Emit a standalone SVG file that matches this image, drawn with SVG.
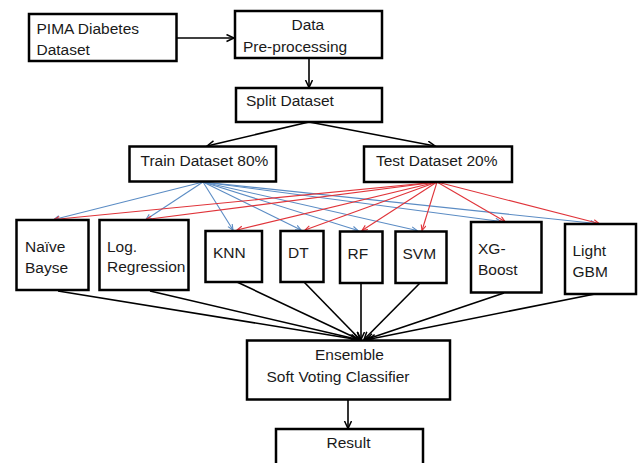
<svg xmlns="http://www.w3.org/2000/svg" width="644" height="463" viewBox="0 0 644 463">
<defs>
<style>
.box{fill:#fff;stroke:#000;stroke-width:2.5}
.t{font-family:"Liberation Sans",Arial,sans-serif;font-size:15.5px;fill:#1a1a1a}
.k{stroke:#000;stroke-width:1.6;fill:none}
.b{stroke:#5b8cc4;stroke-width:1.1;fill:none}
.r{stroke:#e0343a;stroke-width:1.1;fill:none}
</style>
<marker id="ak" markerUnits="userSpaceOnUse" markerWidth="10" markerHeight="10" refX="8" refY="4" orient="auto">
<path d="M0.5,0.5 L8,4 L0.5,7.5" fill="none" stroke="#000" stroke-width="1.5"/>
</marker>
<marker id="ab" markerUnits="userSpaceOnUse" markerWidth="8" markerHeight="8" refX="6" refY="3" orient="auto">
<path d="M0.5,0.5 L6,3 L0.5,5.5" fill="none" stroke="#5b8cc4" stroke-width="1.1"/>
</marker>
<marker id="ar" markerUnits="userSpaceOnUse" markerWidth="8" markerHeight="8" refX="6" refY="3" orient="auto">
<path d="M0.5,0.5 L6,3 L0.5,5.5" fill="none" stroke="#e0343a" stroke-width="1.1"/>
</marker>
</defs>
<rect width="644" height="463" fill="#fff"/>

<g id="connectors">
<line class="k" x1="177" y1="38" x2="234" y2="38" marker-end="url(#ak)"/>
<line class="k" x1="309" y1="58" x2="309" y2="87.5" marker-end="url(#ak)"/>
<line class="k" x1="309" y1="122" x2="207" y2="146" marker-end="url(#ak)"/>
<line class="k" x1="309" y1="122" x2="435" y2="146" marker-end="url(#ak)"/>

<g id="train-edges">
<line class="b" x1="203" y1="182" x2="54" y2="219.5" marker-end="url(#ab)"/>
<line class="b" x1="203" y1="182" x2="146" y2="219.5" marker-end="url(#ab)"/>
<line class="b" x1="203" y1="182" x2="233" y2="230" marker-end="url(#ab)"/>
<line class="b" x1="203" y1="182" x2="301" y2="230" marker-end="url(#ab)"/>
<line class="b" x1="203" y1="182" x2="358" y2="230.5" marker-end="url(#ab)"/>
<line class="b" x1="203" y1="182" x2="417" y2="230.5" marker-end="url(#ab)"/>
<line class="b" x1="203" y1="182" x2="501" y2="221.5" marker-end="url(#ab)"/>
<line class="b" x1="203" y1="182" x2="596" y2="223.5" marker-end="url(#ab)"/>
</g>
<g id="test-edges">
<line class="r" x1="437" y1="182" x2="54" y2="219.5" marker-end="url(#ar)"/>
<line class="r" x1="437" y1="182" x2="146" y2="219.5" marker-end="url(#ar)"/>
<line class="r" x1="437" y1="182" x2="237" y2="230" marker-end="url(#ar)"/>
<line class="r" x1="437" y1="182" x2="305" y2="230" marker-end="url(#ar)"/>
<line class="r" x1="437" y1="182" x2="362" y2="230.5" marker-end="url(#ar)"/>
<line class="r" x1="437" y1="182" x2="422" y2="230.5" marker-end="url(#ar)"/>
<line class="r" x1="437" y1="182" x2="505" y2="221.5" marker-end="url(#ar)"/>
<line class="r" x1="437" y1="182" x2="599" y2="223.5" marker-end="url(#ar)"/>
</g>
<g id="model-edges">
<line class="k" x1="58" y1="291" x2="357" y2="339.5" marker-end="url(#ak)"/>
<line class="k" x1="150" y1="291" x2="358" y2="339.5" marker-end="url(#ak)"/>
<line class="k" x1="237" y1="282" x2="359" y2="339.5" marker-end="url(#ak)"/>
<line class="k" x1="304" y1="282" x2="360" y2="339.5" marker-end="url(#ak)"/>
<line class="k" x1="361" y1="283" x2="361" y2="339.5" marker-end="url(#ak)"/>
<line class="k" x1="420" y1="283" x2="364" y2="339.5" marker-end="url(#ak)"/>
<line class="k" x1="504" y1="293" x2="366" y2="339.5" marker-end="url(#ak)"/>
<line class="k" x1="595" y1="294" x2="368" y2="339.5" marker-end="url(#ak)"/>
</g>
<line class="k" x1="348" y1="399.5" x2="348" y2="428.5" marker-end="url(#ak)"/>
</g>

<g id="pima">
<rect class="box" x="29" y="14" width="147.5" height="47"/>
<text class="t" x="36.5" y="33.5">PIMA Diabetes</text>
<text class="t" x="36.5" y="54.5">Dataset</text>
</g>
<g id="preprocess">
<rect class="box" x="235" y="11" width="147" height="47"/>
<text class="t" x="291.5" y="30">Data</text>
<text class="t" x="243" y="51.5">Pre-processing</text>
</g>
<g id="split">
<rect class="box" x="236" y="88" width="146" height="34"/>
<text class="t" x="246" y="105.5">Split Dataset</text>
</g>
<g id="train">
<rect class="box" x="129.5" y="146.5" width="146.5" height="35"/>
<text class="t" x="140.5" y="166">Train Dataset 80%</text>
</g>
<g id="test">
<rect class="box" x="364" y="146.5" width="148" height="35.5"/>
<text class="t" x="376" y="166">Test Dataset 20%</text>
</g>
<g id="nb">
<rect class="box" x="16.5" y="220" width="72" height="70"/>
<text class="t" x="25" y="252">Naïve</text>
<text class="t" x="25" y="272.5">Bayse</text>
</g>
<g id="lr">
<rect class="box" x="99.5" y="220" width="89" height="70"/>
<text class="t" x="107" y="252">Log.</text>
<text class="t" x="107" y="272">Regression</text>
</g>
<g id="knn">
<rect class="box" x="205.5" y="231" width="56.5" height="51"/>
<text class="t" x="213" y="258">KNN</text>
</g>
<g id="dt">
<rect class="box" x="280.5" y="231" width="43" height="51"/>
<text class="t" x="288" y="258">DT</text>
</g>
<g id="rf">
<rect class="box" x="340" y="231.5" width="42.5" height="51.5"/>
<text class="t" x="347.5" y="259">RF</text>
</g>
<g id="svm">
<rect class="box" x="395.5" y="231.5" width="51" height="51.5"/>
<text class="t" x="402.5" y="259">SVM</text>
</g>
<g id="xgb">
<rect class="box" x="471" y="222" width="70.5" height="70.5"/>
<text class="t" x="478" y="254">XG-</text>
<text class="t" x="478" y="274.5">Boost</text>
</g>
<g id="lgbm">
<rect class="box" x="565" y="224" width="71" height="70"/>
<text class="t" x="572.5" y="255.5">Light</text>
<text class="t" x="572.5" y="276.5">GBM</text>
</g>
<g id="ensemble">
<rect class="box" x="247" y="340.5" width="203" height="59"/>
<text class="t" x="315" y="360">Ensemble</text>
<text class="t" x="266.5" y="381.5">Soft Voting Classifier</text>
</g>
<g id="result">
<rect class="box" x="276" y="429" width="147" height="42"/>
<text class="t" x="326.5" y="447.5">Result</text>
</g>
</svg>
